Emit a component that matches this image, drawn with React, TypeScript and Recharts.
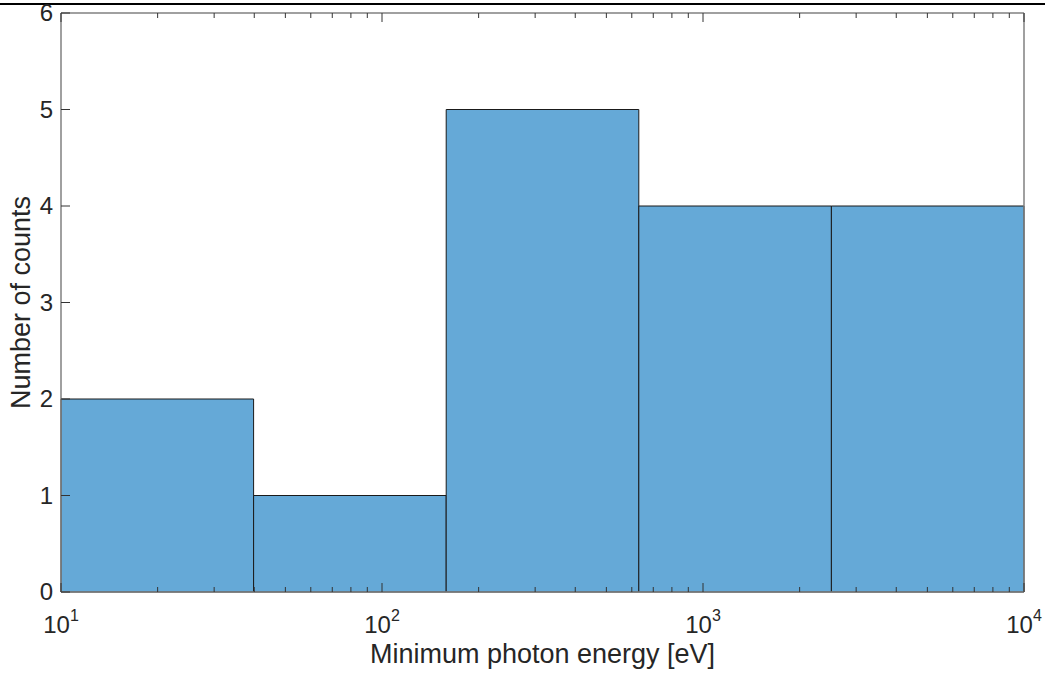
import { ComposedChart, XAxis, YAxis, ReferenceArea, Label } from "recharts";

// histogram bins (log-spaced edges) and counts
const binEdges = [10, 39.81, 158.49, 630.96, 2511.89, 10000];
const counts = [2, 1, 5, 4, 4];

const xTicks = [
  10, 20, 30, 40, 50, 60, 70, 80, 90,
  100, 200, 300, 400, 500, 600, 700, 800, 900,
  1000, 2000, 3000, 4000, 5000, 6000, 7000, 8000, 9000,
  10000,
];
const yTicks = [0, 1, 2, 3, 4, 5, 6];

const W = 1045;
const H = 676;
const FONT = "'Liberation Sans', Arial, Helvetica, sans-serif";
const TEXT = "#262626";
const FRAME = "#808080";
const TICK = "#333333";
const FILL = "#65a9d7";

const isMajor = (v: number) => {
  const l = Math.log10(v);
  return Math.abs(l - Math.round(l)) < 1e-9;
};

const BottomTick = (props: any) => {
  const { x, y, payload } = props;
  const v = payload.value;
  const major = isMajor(v);
  const len = major ? 9 : 5;
  return (
    <g>
      <line x1={x} y1={y} x2={x} y2={y - len} stroke={TICK} strokeWidth={1} />
      {major && (
        <text x={x} y={y + 41} textAnchor="middle" fill={TEXT} fontSize={24} fontFamily={FONT}>
          <tspan>10</tspan>
          <tspan dy={-12} fontSize={16}>
            {Math.round(Math.log10(v))}
          </tspan>
        </text>
      )}
    </g>
  );
};

const TopTick = (props: any) => {
  const { x, y, payload } = props;
  const len = isMajor(payload.value) ? 9 : 5;
  return <line x1={x} y1={y} x2={x} y2={y + len} stroke={TICK} strokeWidth={1} />;
};

const LeftTick = (props: any) => {
  const { x, y, payload } = props;
  return (
    <g>
      <line x1={x} y1={y} x2={x + 9} y2={y} stroke={TICK} strokeWidth={1} />
      <text x={x - 8} y={y} dy={8} textAnchor="end" fill={TEXT} fontSize={24} fontFamily={FONT}>
        {payload.value}
      </text>
    </g>
  );
};

const RightTick = (props: any) => {
  const { x, y } = props;
  return <line x1={x} y1={y} x2={x - 9} y2={y} stroke={TICK} strokeWidth={1} />;
};

export default function App() {
  const bins = counts.map((c, i) => ({ x0: binEdges[i], x1: binEdges[i + 1], count: c }));

  return (
    <div style={{ position: "absolute", left: 0, top: 0, width: W, height: H, background: "#fff" }}>
      <div style={{ position: "absolute", left: 0, top: 3, width: W, height: 2, background: "#000" }} />
      <ComposedChart
        width={W}
        height={H}
        data={bins}
        margin={{ top: 12, right: 20, bottom: 0, left: 0 }}
      >
        <XAxis
          xAxisId="bottom"
          type="number"
          scale="log"
          dataKey="x0"
          domain={[10, 10000]}
          allowDataOverflow
          ticks={xTicks}
          interval={0}
          tickLine={false}
          tickSize={0}
          tickMargin={0}
          height={84}
          axisLine={{ stroke: FRAME, strokeWidth: 1.5 }}
          tick={<BottomTick />}
        >
          <Label
            content={({ viewBox }: any) => (
              <text
                x={viewBox.x + viewBox.width / 2}
                y={viewBox.y + 71}
                textAnchor="middle"
                fill={TEXT}
                fontSize={27}
                fontFamily={FONT}
              >
                Minimum photon energy [eV]
              </text>
            )}
          />
        </XAxis>
        <XAxis
          xAxisId="top"
          orientation="top"
          type="number"
          scale="log"
          dataKey="x0"
          domain={[10, 10000]}
          allowDataOverflow
          ticks={xTicks}
          interval={0}
          tickLine={false}
          tickSize={0}
          tickMargin={0}
          height={1}
          axisLine={{ stroke: FRAME, strokeWidth: 1.5 }}
          tick={<TopTick />}
        />
        <YAxis
          yAxisId="left"
          type="number"
          domain={[0, 6]}
          ticks={yTicks}
          interval={0}
          tickLine={false}
          tickSize={0}
          tickMargin={0}
          width={61}
          axisLine={{ stroke: FRAME, strokeWidth: 1.5 }}
          tick={<LeftTick />}
        >
          <Label
            content={({ viewBox }: any) => {
              const cx = viewBox.x + 30;
              const cy = viewBox.y + viewBox.height / 2;
              return (
                <text
                  x={cx}
                  y={cy}
                  transform={`rotate(-90, ${cx}, ${cy})`}
                  textAnchor="middle"
                  fill={TEXT}
                  fontSize={27}
                  fontFamily={FONT}
                >
                  Number of counts
                </text>
              );
            }}
          />
        </YAxis>
        <YAxis
          yAxisId="right"
          orientation="right"
          type="number"
          domain={[0, 6]}
          ticks={yTicks}
          interval={0}
          tickLine={false}
          tickSize={0}
          tickMargin={0}
          width={1}
          axisLine={{ stroke: FRAME, strokeWidth: 1.5 }}
          tick={<RightTick />}
        />
        {bins.map((b, i) => (
          <ReferenceArea
            key={i}
            xAxisId="bottom"
            yAxisId="left"
            x1={b.x0}
            x2={b.x1}
            y1={0}
            y2={b.count}
            fill={FILL}
            fillOpacity={1}
            stroke="#1a1a1a"
            strokeWidth={1}
            ifOverflow="extendDomain"
          />
        ))}
      </ComposedChart>
    </div>
  );
}
